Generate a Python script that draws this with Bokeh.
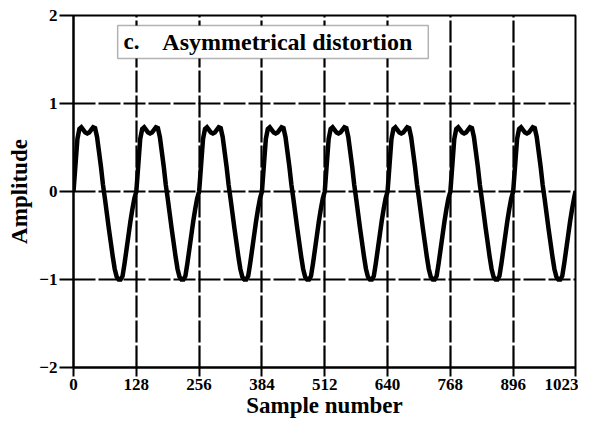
import numpy as np
from bokeh.plotting import figure
from bokeh.models import Range1d, FixedTicker, Label, BoxAnnotation
from bokeh.embed import file_html
from bokeh.resources import INLINE

# ---- data (period 128 samples, 8 cycles) ----
sample_step = 4
cycle1 = [0.00, 0.30, 0.60, 0.71, 0.73, 0.70, 0.67, 0.66, 0.67, 0.70, 0.73, 0.72,
          0.62, 0.45, 0.28, 0.08, -0.08, -0.25, -0.42, -0.58, -0.74, -0.88, -0.97, -1.00,
          -1.00, -0.96, -0.82, -0.66, -0.50, -0.34, -0.20, -0.08]
cycle2 = [0.00, 0.30, 0.60, 0.71, 0.73, 0.70, 0.67, 0.66, 0.67, 0.70, 0.73, 0.72,
          0.62, 0.45, 0.28, 0.08, -0.08, -0.25, -0.42, -0.58, -0.74, -0.88, -0.97, -1.00,
          -1.00, -0.96, -0.82, -0.66, -0.50, -0.34, -0.20, -0.08]
cycle3 = [0.00, 0.30, 0.60, 0.71, 0.73, 0.70, 0.67, 0.66, 0.67, 0.70, 0.73, 0.72,
          0.62, 0.45, 0.28, 0.08, -0.08, -0.25, -0.42, -0.58, -0.74, -0.88, -0.97, -1.00,
          -1.00, -0.96, -0.82, -0.66, -0.50, -0.34, -0.20, -0.08]
cycle4 = [0.00, 0.30, 0.60, 0.71, 0.73, 0.70, 0.67, 0.66, 0.67, 0.70, 0.73, 0.72,
          0.62, 0.45, 0.28, 0.08, -0.08, -0.25, -0.42, -0.58, -0.74, -0.88, -0.97, -1.00,
          -1.00, -0.96, -0.82, -0.66, -0.50, -0.34, -0.20, -0.08]
cycle5 = [0.00, 0.30, 0.60, 0.71, 0.73, 0.70, 0.67, 0.66, 0.67, 0.70, 0.73, 0.72,
          0.62, 0.45, 0.28, 0.08, -0.08, -0.25, -0.42, -0.58, -0.74, -0.88, -0.97, -1.00,
          -1.00, -0.96, -0.82, -0.66, -0.50, -0.34, -0.20, -0.08]
cycle6 = [0.00, 0.30, 0.60, 0.71, 0.73, 0.70, 0.67, 0.66, 0.67, 0.70, 0.73, 0.72,
          0.62, 0.45, 0.28, 0.08, -0.08, -0.25, -0.42, -0.58, -0.74, -0.88, -0.97, -1.00,
          -1.00, -0.96, -0.82, -0.66, -0.50, -0.34, -0.20, -0.08]
cycle7 = [0.00, 0.30, 0.60, 0.71, 0.73, 0.70, 0.67, 0.66, 0.67, 0.70, 0.73, 0.72,
          0.62, 0.45, 0.28, 0.08, -0.08, -0.25, -0.42, -0.58, -0.74, -0.88, -0.97, -1.00,
          -1.00, -0.96, -0.82, -0.66, -0.50, -0.34, -0.20, -0.08]
cycle8 = [0.00, 0.30, 0.60, 0.71, 0.73, 0.70, 0.67, 0.66, 0.67, 0.70, 0.73, 0.72,
          0.62, 0.45, 0.28, 0.08, -0.08, -0.25, -0.42, -0.58, -0.74, -0.88, -0.97, -1.00,
          -1.00, -0.96, -0.82, -0.66, -0.50, -0.34, -0.20, -0.08]
last_sample = 1023
last_value = 0.00

x_ticks = [0, 128, 256, 384, 512, 640, 768, 896, 1023]
y_ticks = [-2, -1, 0, 1, 2]
x_grid = [128, 256, 384, 512, 640, 768, 896]
y_grid = [-1, 0, 1]
title_letter = "c."
title_text = "Asymmetrical distortion"
x_label = "Sample number"
y_label = "Amplitude"

amplitude = cycle1 + cycle2 + cycle3 + cycle4 + cycle5 + cycle6 + cycle7 + cycle8 + [last_value]
samples = list(range(0, 1024, sample_step)) + [last_sample]

FONT = "Liberation Serif"

p = figure(width=578, height=420, output_backend="svg", toolbar_location=None,
           x_range=Range1d(0, 1023), y_range=Range1d(-2, 2),
           min_border_left=73, min_border_right=3, min_border_top=15, min_border_bottom=53)
p.background_fill_color = "white"
p.border_fill_color = "white"
p.outline_line_color = "black"
p.outline_line_width = 2

# grid
p.xgrid.ticker = FixedTicker(ticks=x_grid)
p.ygrid.ticker = FixedTicker(ticks=y_grid)
for g in (p.xgrid, p.ygrid):
    g.grid_line_color = "black"
    g.grid_line_width = 2.2
    g.grid_line_dash = "22 3"
    g.grid_line_alpha = 1.0

# axes
p.xaxis.ticker = FixedTicker(ticks=x_ticks)
p.yaxis.ticker = FixedTicker(ticks=y_ticks)
for ax in (p.xaxis, p.yaxis):
    ax.axis_line_color = "black"
    ax.axis_line_width = 2
    ax.major_tick_line_color = "black"
    ax.major_tick_line_width = 2
    ax.minor_tick_line_color = None
    ax.major_tick_in = 0
    ax.major_label_text_font = FONT
    ax.major_label_text_font_style = "bold"
    ax.major_label_text_color = "black"
    ax.major_label_text_font_size = "17px"
    ax.axis_label_text_font = FONT
    ax.axis_label_text_font_style = "bold"
    ax.axis_label_text_color = "black"
    ax.axis_label_text_font_size = "23px"
p.xaxis.major_tick_out = 9
p.xaxis.major_label_standoff = 2
p.xaxis.axis_label = x_label
p.xaxis.axis_label_standoff = 0
p.yaxis.major_tick_out = 14
p.yaxis.major_label_standoff = 2
p.yaxis.axis_label = y_label
p.yaxis.axis_label_standoff = 4

# signal
p.line(samples, amplitude, line_color="black", line_width=4.5, line_join="miter")

# title box
box = BoxAnnotation(left=90, right=723, bottom=1.51, top=1.885,
                    fill_color="white", fill_alpha=1.0,
                    line_color="black", line_width=1.5, level="overlay")
p.add_layout(box)
lab1 = Label(x=102, y=1.70, text=title_letter, text_font=FONT, text_font_style="bold",
             text_font_size="23px", text_baseline="middle", text_color="black", level="overlay")
lab2 = Label(x=181, y=1.70, text=title_text, text_font=FONT, text_font_style="bold",
             text_font_size="24px", text_baseline="middle", text_color="black", level="overlay")
p.add_layout(lab1)
p.add_layout(lab2)

open("out.html", "w").write(file_html(p, INLINE))
